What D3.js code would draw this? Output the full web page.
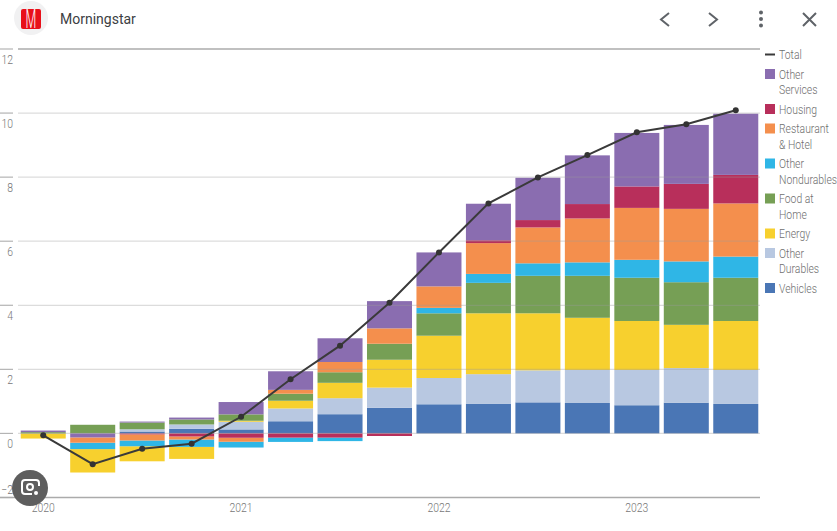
<!DOCTYPE html>
<html>
<head>
<meta charset="utf-8">
<title>Morningstar</title>
<script src="https://cdn.jsdelivr.net/npm/d3@7"></script>
<style>
	html, body { margin: 0; padding: 0; background: #fff; }
	svg { display: block; }
	text { font-family: Roboto, sans-serif; font-weight: 300; }
</style>
</head>
<body>
<svg id="chart" width="837" height="531"></svg>
<script>
var periods = ["2020Q1","2020Q2","2020Q3","2020Q4","2021Q1","2021Q2","2021Q3","2021Q4","2022Q1","2022Q2","2022Q3","2022Q4","2023Q1","2023Q2","2023Q3"];
var yearLabels = ["2020","2021","2022","2023"];
var yearTicks = ["2020Q1","2021Q1","2022Q1","2023Q1"];
var yTicks = [-2, 0, 2, 4, 6, 8, 10, 12];

var vehicles      = [0, 0, 0.06, 0.145, 0.125, 0.38, 0.60, 0.80, 0.91, 0.92, 0.97, 0.95, 0.88, 0.96, 0.92];
var otherDurables = [0, 0, 0.07, 0.135, 0.24, 0.40, 0.50, 0.63, 0.82, 0.93, 1.00, 1.03, 1.10, 1.08, 1.06];
var energy        = [-0.16, -0.73, -0.47, -0.375, 0.03, 0.24, 0.48, 0.87, 1.32, 1.90, 1.78, 1.63, 1.53, 1.35, 1.53];
var foodAtHome    = [0.04, 0.27, 0.21, 0.155, 0.20, 0.22, 0.33, 0.50, 0.70, 0.95, 1.17, 1.31, 1.35, 1.33, 1.35];
var otherNondur   = [0, -0.20, -0.18, -0.23, -0.18, -0.135, -0.11, 0, 0.17, 0.28, 0.39, 0.42, 0.56, 0.65, 0.66];
var restaurant    = [0, -0.165, -0.19, -0.095, -0.125, 0.12, 0.32, 0.48, 0.67, 0.96, 1.12, 1.37, 1.62, 1.64, 1.66];
var housing       = [0, 0, -0.03, -0.095, -0.135, -0.13, -0.13, -0.08, 0, 0.09, 0.23, 0.45, 0.67, 0.78, 0.89];
var otherServices = [0.05, -0.125, 0.03, 0.06, 0.385, 0.58, 0.74, 0.85, 1.06, 1.14, 1.32, 1.52, 1.67, 1.84, 1.91];
var total         = [-0.06, -0.96, -0.48, -0.32, 0.52, 1.69, 2.74, 4.08, 5.65, 7.18, 7.99, 8.69, 9.40, 9.65, 10.09];

// bottom of the stack first
var seriesNames = ["Vehicles","Other Durables","Energy","Food at Home","Other Nondurables","Restaurant & Hotel","Housing","Other Services"];
var seriesValues = [vehicles, otherDurables, energy, foodAtHome, otherNondur, restaurant, housing, otherServices];
var seriesColors = ["#4a76b5","#b8c8e1","#f7d02e","#769f55","#2fb6e6","#f48f4d","#b82f5b","#8a6db0"];

// legend reads top to bottom, "Total" is drawn apart as a line
var legendLines = [["Other","Services"],["Housing"],["Restaurant","& Hotel"],["Other","Nondurables"],["Food at","Home"],["Energy"],["Other","Durables"],["Vehicles"]];
var legendColors = ["#8a6db0","#b82f5b","#f48f4d","#2fb6e6","#769f55","#f7d02e","#b8c8e1","#4a76b5"];

var NARROW = 0.8;

var svg = d3.select("#chart");

var x = d3.scaleBand().domain(periods).range([18.5, 760.5]).paddingInner(0.09).paddingOuter(0.045);
var y = d3.scaleLinear().domain([-2, 12]).range([497.5, 49]);

// rows for d3.stack
var rows = periods.map(function(p, i) {
	var row = { period: p };
	seriesNames.forEach(function(name, s) { row[name] = seriesValues[s][i]; });
	return row;
});

// Positives pile up from vehicles, negatives hang down from other services
// d3.stack hands each point over as [0, value]
function offsetOppositeDiverging(series, order) {
	var n = series[0].length;
	for (var j = 0; j < n; j++) {
		var up = 0, down = 0, i, d, v;
		var values = order.map(function(o) { return series[o][j][1]; });
		for (i = 0; i < order.length; i++) {
			d = series[order[i]][j];
			v = values[i];
			if (v > 0) { d[0] = up; up += v; d[1] = up; }
		}
		for (i = order.length - 1; i >= 0; i--) {
			d = series[order[i]][j];
			v = values[i];
			if (v <= 0) { d[1] = down; down += v; d[0] = down; }
		}
	}
}

var stacked = d3.stack()
	.keys(seriesNames)
	.offset(offsetOppositeDiverging)(rows);

// text squeezed sideways, the original uses a condensed face
function narrowText(g, px, py, str, anchor) {
	return g.append("text")
		.attr("transform", "translate(" + px + "," + py + ") scale(" + NARROW + ",1)")
		.attr("text-anchor", anchor || "start")
		.text(str);
}

// grid
var gridValues = yTicks.filter(function(t) { return t !== -2; });
var gridG = svg.append("g").attr("class", "grid");
gridG.selectAll("line.t")
	.data(yTicks)
	.enter().append("line")
	.attr("class", "t")
	.attr("x1", 0).attr("x2", 13)
	.attr("y1", function(d) { return y(d); })
	.attr("y2", function(d) { return y(d); })
	.attr("stroke", "#b4b4b4")
	.attr("stroke-width", 1.2);

// bars
var barsG = svg.append("g").attr("class", "bars");
stacked.forEach(function(layer, s) {
	barsG.append("g")
		.attr("fill", seriesColors[s])
		.selectAll("rect")
		.data(layer)
		.enter().append("rect")
		.attr("x", function(d) { return x(d.data.period); })
		.attr("width", x.bandwidth())
		.attr("y", function(d) { return y(d[1]); })
		.attr("height", function(d) { return y(d[0]) - y(d[1]); });
});

// gridlines show faintly through the bars, so they go on top
svg.append("g").selectAll("line")
	.data(gridValues)
	.enter().append("line")
	.attr("x1", 18).attr("x2", 760)
	.attr("y1", function(d) { return y(d); })
	.attr("y2", function(d) { return y(d); })
	.attr("stroke", function(d) { return d === 12 ? "#ababab" : "#9a9a9a"; })
	.attr("stroke-opacity", function(d) { return d === 12 ? 1 : 0.35; })
	.attr("stroke-width", function(d) { return d === 12 ? 1.5 : 1.2; });

// y labels sit under their tick, except the lowest which sits above the axis
var yLabels = svg.append("g").attr("fill", "#777").attr("font-size", 13);
yTicks.forEach(function(t) {
	narrowText(yLabels, 13, t === -2 ? y(t) - 4 : y(t) + 15, d3.format("d")(t), "end");
});

// bottom axis
var xAxis = d3.axisBottom(x).tickValues(yearTicks).tickSize(0)
	.tickFormat(function(d, i) { return yearLabels[i]; });
var xAxisG = svg.append("g").attr("transform", "translate(0,497.5)").call(xAxis);
xAxisG.select(".domain").remove();
xAxisG.selectAll("text").remove();
xAxisG.selectAll(".tick").each(function(d, i) {
	narrowText(d3.select(this), 0, 14, yearLabels[i], "middle")
		.attr("fill", "#777")
		.attr("font-size", 13);
});
svg.append("line")
	.attr("x1", 0).attr("x2", 760)
	.attr("y1", y(-2)).attr("y2", y(-2))
	.attr("stroke", "#ababab")
	.attr("stroke-width", 1.5);

// total line
var line = d3.line()
	.x(function(d, i) { return x(periods[i]) + x.bandwidth() / 2; })
	.y(function(d) { return y(d); });
svg.append("path")
	.datum(total)
	.attr("d", line)
	.attr("fill", "none")
	.attr("stroke", "#3a3a3a")
	.attr("stroke-width", 2);
svg.append("g").selectAll("circle")
	.data(total)
	.enter().append("circle")
	.attr("cx", function(d, i) { return x(periods[i]) + x.bandwidth() / 2; })
	.attr("cy", function(d) { return y(d); })
	.attr("r", 3)
	.attr("fill", "#333");

// legend
var legend = svg.append("g").attr("font-size", 13).attr("fill", "#6e6e6e");
legend.append("line")
	.attr("x1", 765).attr("x2", 775).attr("y1", 54.5).attr("y2", 54.5)
	.attr("stroke", "#3a3a3a").attr("stroke-width", 2);
narrowText(legend, 779, 59, "Total");
var legendY = 74;
legendLines.forEach(function(lines, i) {
	legend.append("rect")
		.attr("x", 765).attr("y", legendY - 5)
		.attr("width", 10).attr("height", 10)
		.attr("fill", legendColors[i]);
	lines.forEach(function(l, k) {
		narrowText(legend, 779, legendY + 4.5 + k * 15.8, l);
	});
	legendY += lines.length === 2 ? 35 : 19.5;
});

// viewer header
svg.append("circle").attr("cx", 31).attr("cy", 18).attr("r", 17).attr("fill", "#f1f1f2");
svg.append("rect").attr("x", 21).attr("y", 9).attr("width", 20).attr("height", 20).attr("rx", 2).attr("fill", "#e8101a");
svg.append("text")
	.attr("transform", "translate(31,27.5) scale(0.5,1)")
	.attr("text-anchor", "middle")
	.attr("font-size", 25)
	.attr("fill", "#fff")
	.text("M");
svg.append("text")
	.attr("x", 60).attr("y", 24)
	.attr("font-size", 14)
	.attr("fill", "#3c4043")
	.style("font-weight", 400)
	.text("Morningstar");

var icons = svg.append("g").attr("fill", "none").attr("stroke", "#5f6368").attr("stroke-width", 2);
icons.append("path").attr("d", "M669,13 L661,19.5 L669,26");
icons.append("path").attr("d", "M709,13 L717,19.5 L709,26");
icons.append("path").attr("d", "M803,13 L816,26 M816,13 L803,26");
[12.5, 19, 25.5].forEach(function(cy) {
	svg.append("circle").attr("cx", 761).attr("cy", cy).attr("r", 2).attr("fill", "#5f6368");
});

// lens badge
svg.append("circle").attr("cx", 30).attr("cy", 488).attr("r", 18).attr("fill", "#5e5e5e");
var lens = svg.append("g").attr("fill", "none").attr("stroke", "#fff").attr("stroke-width", 2);
lens.append("path").attr("d", "M22,491 V483 Q22,480 25,480 H36 Q39,480 39,483 V486 M22,491 Q22,494 25,494 H32");
lens.append("circle").attr("cx", 30).attr("cy", 487).attr("r", 3);
svg.append("circle").attr("cx", 36).attr("cy", 493).attr("r", 2).attr("fill", "#fff");
</script>
</body>
</html>
